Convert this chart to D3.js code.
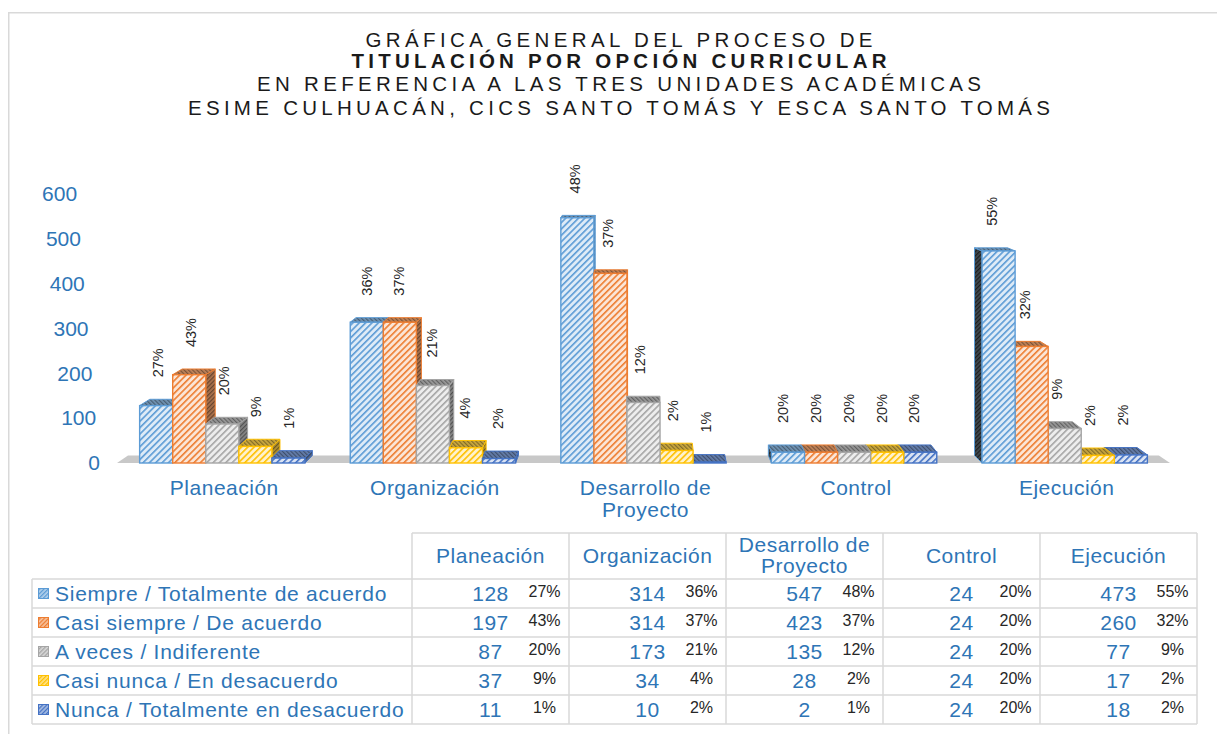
<!DOCTYPE html>
<html>
<head>
<meta charset="utf-8">
<script src="https://cdn.jsdelivr.net/npm/d3@7"></script>
<style>
  html, body { margin: 0; padding: 0; background: #fff; }
  svg { display: block; font-family: "Liberation Sans", Arial, Helvetica, sans-serif; }
</style>
</head>
<body>
<svg id="chart" width="1217" height="734"></svg>
<script>
// ---- data ----
const categories = ["Planeación", "Organización", "Desarrollo de Proyecto", "Control", "Ejecución"];
const seriesNames = [
  "Siempre / Totalmente de acuerdo",
  "Casi siempre / De acuerdo",
  "A veces / Indiferente",
  "Casi nunca / En desacuerdo",
  "Nunca / Totalmente en desacuerdo"
];
const siempre     = [128, 314, 547, 24, 473];
const casiSiempre = [197, 314, 423, 24, 260];
const aVeces      = [87, 173, 135, 24, 77];
const casiNunca   = [37, 34, 28, 24, 17];
const nunca       = [11, 10, 2, 24, 18];

const pctSiempre     = ["27%", "36%", "48%", "20%", "55%"];
const pctCasiSiempre = ["43%", "37%", "37%", "20%", "32%"];
const pctAVeces      = ["20%", "21%", "12%", "20%", "9%"];
const pctCasiNunca   = ["9%", "4%", "2%", "20%", "2%"];
const pctNunca       = ["1%", "2%", "1%", "20%", "2%"];

const yTicks = [0, 100, 200, 300, 400, 500, 600];
const titleLines = [
  "GRÁFICA GENERAL DEL PROCESO DE",
  "TITULACIÓN POR OPCIÓN CURRICULAR",
  "EN REFERENCIA A LAS TRES UNIDADES ACADÉMICAS",
  "ESIME CULHUACÁN, CICS SANTO TOMÁS Y ESCA SANTO TOMÁS"
];

const seriesValues = [siempre, casiSiempre, aVeces, casiNunca, nunca];
const seriesPct = [pctSiempre, pctCasiSiempre, pctAVeces, pctCasiNunca, pctNunca];
const seriesColors = ["#5B9BD5", "#ED7D31", "#A5A5A5", "#FFC000", "#4472C4"];

// ---- setup ----
const svg = d3.select("#chart");
const blue = "#2E75B6";
const gridColor = "#d9d9d9";
const defs = svg.append("defs");

// outer chart frame
svg.append("rect")
  .attr("x", 8.75).attr("y", 12.75).attr("width", 1300).attr("height", 1000)
  .attr("fill", "none").attr("stroke", gridColor).attr("stroke-width", 1.5);

// ---- hatch patterns ----
function stripePattern(id, bg, fg, size, w, angle) {
  const p = defs.append("pattern")
    .attr("id", id)
    .attr("patternUnits", "userSpaceOnUse")
    .attr("width", size).attr("height", size)
    .attr("patternTransform", `rotate(${angle})`);
  p.append("rect").attr("width", size).attr("height", size).attr("fill", bg);
  p.append("rect").attr("width", w).attr("height", size).attr("fill", fg);
}
const mix = (a, b, t) => d3.interpolateRgb(a, b)(t);
seriesColors.forEach((c, i) => {
  stripePattern(`front${i}`, mix(c, "#ffffff", 0.8), c, 4.5, 1.6, 45);
  stripePattern(`top${i}`, mix(c, "#8a8a8a", 0.45), mix(c, "#3c3c3c", 0.65), 3, 1.2, -45);
  stripePattern(`sideR${i}`, mix(c, "#666666", 0.5), mix(c, "#2c2c2c", 0.7), 3, 1.2, 45);
  stripePattern(`sideL${i}`, mix(c, "#3a3a3a", 0.85), "#1e1e1e", 3, 1.2, 45);
  stripePattern(`key${i}`, mix(c, "#ffffff", 0.55), c, 3, 1.3, 45);
});

// ---- scales ----
const x = d3.scaleBand().domain(categories).range([117, 1170]);
const groupW = x.bandwidth() * 0.785;
const xs = d3.scaleBand().domain(seriesNames).range([0, groupW]);
const y = d3.scaleLinear().domain([0, 600]).range([463, 194]);

// perspective offsets of the depth edge
const VPX = 640;
const dxAt = px => (VPX - px) * 0.021;
const dyAt = py => Math.max(2, 2 + (py - 200) * 0.021);

// ---- title ----
const titleG = svg.append("g").attr("fill", "#1a1a1a").attr("font-size", 20.5);
const titleBase = [47, 68, 91, 115];
const titleLen = [507, 535, 724, 862];
titleLines.forEach((t, i) => {
  titleG.append("text")
    .attr("x", 619).attr("y", titleBase[i])
    .attr("text-anchor", "middle")
    .attr("font-weight", i === 1 ? "bold" : "normal")
    .attr("textLength", titleLen[i])
    .attr("lengthAdjust", "spacing")
    .text(t);
});

// ---- floor ----
const y0 = y(0);
svg.append("polygon")
  .attr("points", [
    [117, y0], [1170, y0],
    [1170 + dxAt(1170), y0 - dyAt(y0)],
    [117 + dxAt(117), y0 - dyAt(y0)]
  ].map(p => p.join(",")).join(" "))
  .attr("fill", "#c8c8c8");

// ---- bars ----
const bars = [];
categories.forEach((cat, ci) => {
  const gx = x(cat) + (x.bandwidth() - groupW) / 2;
  seriesNames.forEach((s, si) => {
    const x0 = gx + xs(s), x1 = x0 + xs.bandwidth();
    const v = seriesValues[si][ci];
    bars.push({ ci, si, x0, x1, cx: (x0 + x1) / 2, top: y(v), bottom: y(0), pct: seriesPct[si][ci] });
  });
});
// far-from-centre bars first so nearer fronts cover their side faces
const drawOrder = bars.slice().sort((a, b) => Math.abs(b.cx - VPX) - Math.abs(a.cx - VPX));
const barG = svg.append("g");
const pts = arr => arr.map(p => p.join(",")).join(" ");
drawOrder.forEach(b => {
  const c = seriesColors[b.si];
  const dx = dxAt(b.cx);
  const dyT = dyAt(b.top), dyB = dyAt(b.bottom);
  const g = barG.append("g");
  const edgeX = dx >= 0 ? b.x1 : b.x0;
  g.append("polygon")
    .attr("points", pts([[edgeX, b.top], [edgeX + dx, b.top - dyT], [edgeX + dx, b.bottom - dyB], [edgeX, b.bottom]]))
    .attr("fill", `url(#${dx >= 0 ? "sideR" : "sideL"}${b.si})`)
    .attr("stroke", c).attr("stroke-width", 1).attr("stroke-linejoin", "round");
  g.append("polygon")
    .attr("points", pts([[b.x0, b.top], [b.x1, b.top], [b.x1 + dx, b.top - dyT], [b.x0 + dx, b.top - dyT]]))
    .attr("fill", `url(#top${b.si})`)
    .attr("stroke", c).attr("stroke-width", 1).attr("stroke-linejoin", "round");
  g.append("rect")
    .attr("x", b.x0).attr("y", b.top)
    .attr("width", b.x1 - b.x0).attr("height", b.bottom - b.top)
    .attr("fill", `url(#front${b.si})`)
    .attr("stroke", c).attr("stroke-width", 1.4);
});

// ---- data labels (vertical) ----
svg.append("g").selectAll("text").data(bars).join("text")
  .attr("transform", b => {
    const dx = dxAt(b.cx);
    const lx = b.cx + dx * 0.5 - 3;
    const ly = b.top - dyAt(b.top) - 22;
    return `translate(${lx},${ly}) rotate(-90)`;
  })
  .attr("dominant-baseline", "central")
  .attr("font-size", 14.5)
  .attr("fill", "#262626")
  .text(b => b.pct);

// ---- y axis ----
const yAxisG = svg.append("g")
  .call(d3.axisLeft(y).tickValues(yTicks).tickSize(0).tickPadding(0));
yAxisG.select(".domain").remove();
yAxisG.selectAll(".tick text")
  .attr("x", d => 100 - (y0 - y(d)) * 0.085)
  .attr("text-anchor", "end")
  .attr("font-family", "Liberation Sans, Arial, sans-serif")
  .attr("font-size", 21)
  .attr("fill", blue);

// ---- x axis ----
const splitLines = t => {
  if (t.length <= 14) return [t];
  const k = t.lastIndexOf(" ");
  return [t.slice(0, k), t.slice(k + 1)];
};
const xAxisG = svg.append("g")
  .attr("transform", `translate(0,${y0})`)
  .call(d3.axisBottom(x).tickSize(0));
xAxisG.select(".domain").remove();
xAxisG.selectAll(".tick text")
  .attr("y", 32).attr("dy", 0)
  .attr("font-family", "Liberation Sans, Arial, sans-serif")
  .attr("font-size", 21)
  .attr("letter-spacing", 0.5)
  .attr("fill", blue)
  .each(function (d) {
    const t = d3.select(this).text("");
    splitLines(d).forEach((ln, i) => {
      t.append("tspan").attr("x", 2).attr("dy", i === 0 ? 0 : 21.5).text(ln);
    });
  });

// ---- data table ----
const col = d3.scaleBand().domain(categories).range([412, 1197]);
const row = d3.scaleBand().domain(seriesNames).range([579, 724]);
const tableTop = 533, legendLeft = 32;
const tG = svg.append("g").attr("stroke", gridColor).attr("stroke-width", 1.5);
tG.append("line").attr("x1", 412).attr("x2", 1197).attr("y1", tableTop).attr("y2", tableTop);
tG.append("line").attr("x1", legendLeft).attr("x2", 1197).attr("y1", row.range()[0]).attr("y2", row.range()[0]);
seriesNames.forEach(s => {
  const yy = row(s) + row.bandwidth();
  tG.append("line").attr("x1", legendLeft).attr("x2", 1197).attr("y1", yy).attr("y2", yy);
});
tG.append("line").attr("x1", legendLeft).attr("x2", legendLeft).attr("y1", row.range()[0]).attr("y2", row.range()[1]);
tG.append("line").attr("x1", 412).attr("x2", 412).attr("y1", tableTop).attr("y2", row.range()[1]);
categories.forEach(c => {
  const xx = col(c) + col.bandwidth();
  tG.append("line").attr("x1", xx).attr("x2", xx).attr("y1", tableTop).attr("y2", row.range()[1]);
});

// column headers
const headG = svg.append("g").attr("font-size", 21).attr("fill", blue).attr("letter-spacing", 0.5);
categories.forEach(c => {
  const lines = splitLines(c);
  const cx = col(c) + col.bandwidth() / 2;
  const t = headG.append("text").attr("text-anchor", "middle");
  lines.forEach((ln, i) => {
    t.append("tspan").attr("x", cx)
      .attr("y", lines.length === 1 ? 563 : 552 + i * 21)
      .text(ln);
  });
});

// legend keys and names
const legG = svg.append("g");
seriesNames.forEach((s, si) => {
  const cy = row(s) + row.bandwidth() / 2;
  legG.append("rect")
    .attr("x", 38.5).attr("y", cy - 5).attr("width", 10).attr("height", 10)
    .attr("fill", `url(#key${si})`)
    .attr("stroke", seriesColors[si]).attr("stroke-width", 1);
  legG.append("text")
    .attr("x", 55).attr("y", cy + 7.5)
    .attr("font-size", 21).attr("letter-spacing", 0.75)
    .attr("fill", blue)
    .text(s);
});

// values and percentages
const cellG = svg.append("g");
seriesNames.forEach((s, si) => {
  const cy = row(s) + row.bandwidth() / 2;
  categories.forEach((c, ci) => {
    const cx = col(c) + col.bandwidth() / 2;
    cellG.append("text")
      .attr("x", cx).attr("y", cy + 7.5)
      .attr("text-anchor", "middle")
      .attr("font-size", 21).attr("letter-spacing", 0.5)
      .attr("fill", blue)
      .text(seriesValues[si][ci]);
    cellG.append("text")
      .attr("x", cx + 54).attr("y", cy + 3.5)
      .attr("text-anchor", "middle")
      .attr("font-size", 16)
      .attr("fill", "#262626")
      .text(seriesPct[si][ci]);
  });
});
</script>
</body>
</html>
